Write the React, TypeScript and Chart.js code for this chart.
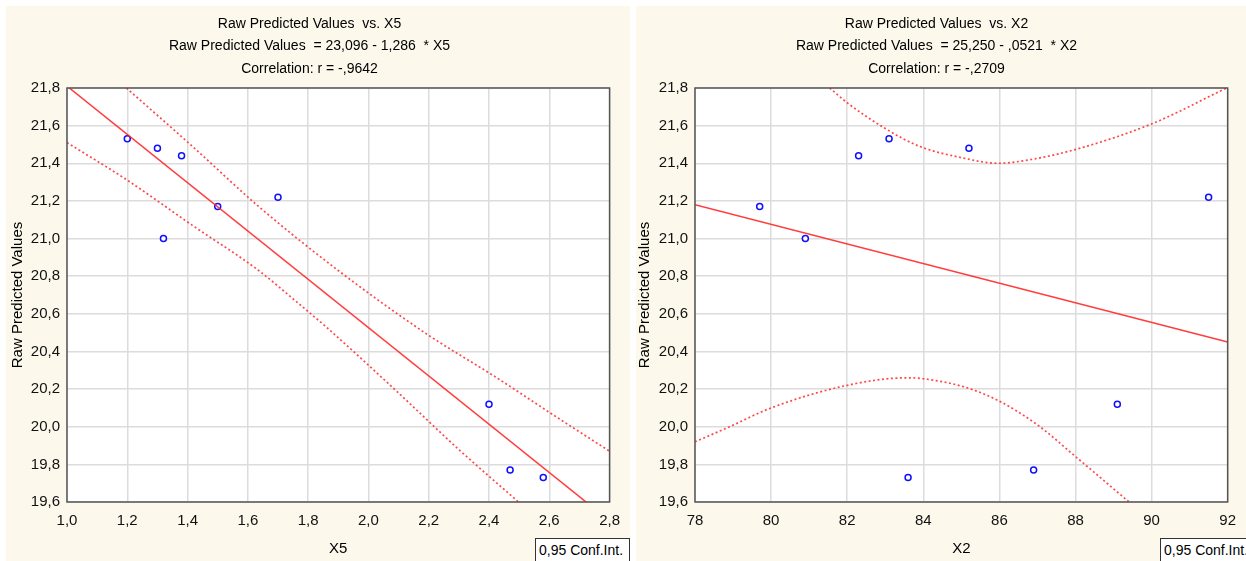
import React, { useEffect, useRef } from 'react';
import { Chart, registerables } from 'chart.js';

Chart.register(...registerables);

// ---- Data ----
const X5_VALUES = [1.2, 1.3, 1.38, 1.5, 1.7, 1.32, 2.4, 2.47, 2.58];
const X2_VALUES = [83.1, 85.2, 82.3, 79.7, 91.5, 80.9, 89.1, 86.9, 83.6];
const RAW_PREDICTED = [21.53, 21.48, 21.44, 21.17, 21.22, 21.0, 20.12, 19.77, 19.73];

const X5_FIT_X = [1.0, 2.8];
const X5_FIT_Y = [21.81, 19.5];
const X5_UPPER_X = [1.197, 1.416, 1.636, 1.9, 2.196, 2.416, 2.635, 2.8];
const X5_UPPER_Y = [21.8, 21.49, 21.17, 20.83, 20.49, 20.27, 20.04, 19.87];
const X5_LOWER_X = [1.0, 1.2, 1.416, 1.636, 1.757, 1.867, 2.086, 2.306, 2.498];
const X5_LOWER_Y = [21.51, 21.31, 21.07, 20.83, 20.67, 20.52, 20.2, 19.87, 19.6];

const X2_FIT_X = [78, 92];
const X2_FIT_Y = [21.18, 20.45];
const X2_UPPER_X = [81.54, 82.01, 83.04, 83.9, 85.0, 85.96, 86.83, 88.03, 90.01, 91.97];
const X2_UPPER_Y = [21.8, 21.72, 21.58, 21.49, 21.43, 21.4, 21.42, 21.475, 21.61, 21.8];
const X2_LOWER_X = [78, 78.91, 80, 82, 83.56, 84.0, 85.1, 85.96, 87, 88.01, 89.41];
const X2_LOWER_Y = [19.92, 20.0, 20.1, 20.22, 20.26, 20.255, 20.21, 20.14, 20.01, 19.84, 19.6];

const Y_TICKS = [19.6, 19.8, 20.0, 20.2, 20.4, 20.6, 20.8, 21.0, 21.2, 21.4, 21.6, 21.8];
const Y_TICK_LABELS = ['19,6', '19,8', '20,0', '20,2', '20,4', '20,6', '20,8', '21,0', '21,2', '21,4', '21,6', '21,8'];
const X5_TICKS = [1.0, 1.2, 1.4, 1.6, 1.8, 2.0, 2.2, 2.4, 2.6, 2.8];
const X5_TICK_LABELS = ['1,0', '1,2', '1,4', '1,6', '1,8', '2,0', '2,2', '2,4', '2,6', '2,8'];
const X2_TICKS = [78, 80, 82, 84, 86, 88, 90, 92];
const X2_TICK_LABELS = ['78', '80', '82', '84', '86', '88', '90', '92'];

const LEFT_TITLE = ['Raw Predicted Values  vs. X5', 'Raw Predicted Values  = 23,096 - 1,286  * X5', 'Correlation: r = -,9642'];
const RIGHT_TITLE = ['Raw Predicted Values  vs. X2', 'Raw Predicted Values  = 25,250 - ,0521  * X2', 'Correlation: r = -,2709'];
const Y_TITLE = 'Raw Predicted Values';
const LEGEND_TEXT = '0,95 Conf.Int.';

const FONT = '"Liberation Sans Narrow", "Arial Narrow", "Liberation Sans", sans-serif';
const CREAM = '#fdf8ec';

const zip = (xs: number[], ys: number[]) => xs.map((x, i) => ({ x, y: ys[i] }));

const framePlugin = {
  id: 'frame',
  beforeDraw(chart: any) {
    const { ctx, chartArea } = chart;
    ctx.save();
    ctx.fillStyle = '#ffffff';
    ctx.fillRect(chartArea.left, chartArea.top, chartArea.right - chartArea.left, chartArea.bottom - chartArea.top);
    ctx.restore();
  },
  afterDraw(chart: any) {
    const { ctx, chartArea } = chart;
    ctx.save();
    ctx.strokeStyle = '#555555';
    ctx.lineWidth = 1.5;
    ctx.strokeRect(chartArea.left, chartArea.top, chartArea.right - chartArea.left, chartArea.bottom - chartArea.top);
    ctx.restore();
  },
};

type PanelProps = {
  left: number;
  width: number;
  plotLeft: number;
  padRight: number;
  yTitlePad: number;
  title: string[];
  xTitle: string;
  xs: number[];
  fitX: number[];
  fitY: number[];
  upX: number[];
  upY: number[];
  loX: number[];
  loY: number[];
  xTicks: number[];
  xTickLabels: string[];
  legendLeft: number;
  legendWidth: number;
};

const HEIGHT = 555;

function Panel(p: PanelProps) {
  const ref = useRef<HTMLCanvasElement | null>(null);
  useEffect(() => {
    if (!ref.current) return;
    const tickFont = { family: FONT, size: 15 };
    const bandStyle = {
      showLine: true,
      borderColor: 'rgba(255,40,40,0.85)',
      borderWidth: 1.7,
      borderDash: [2, 2.5],
      pointRadius: 0,
      cubicInterpolationMode: 'monotone' as const,
      fill: false,
    };
    const chart = new Chart(ref.current, {
      type: 'scatter',
      data: {
        datasets: [
          { label: 'upper', data: zip(p.upX, p.upY), ...bandStyle },
          { label: 'lower', data: zip(p.loX, p.loY), ...bandStyle },
          {
            label: 'fit',
            data: zip(p.fitX, p.fitY),
            showLine: true,
            borderColor: 'rgba(255,40,40,0.9)',
            borderWidth: 1.5,
            pointRadius: 0,
          },
          {
            label: 'points',
            data: zip(p.xs, RAW_PREDICTED),
            pointStyle: 'circle',
            pointRadius: 3,
            borderColor: '#1010ff',
            backgroundColor: '#ffffff',
            borderWidth: 1.5,
          },
        ],
      },
      options: {
        responsive: false,
        animation: false,
        events: [],
        layout: { padding: { left: 0, right: p.padRight, top: 0, bottom: 0 } },
        plugins: {
          legend: { display: false },
          tooltip: { enabled: false },
          title: {
            display: true,
            text: p.title,
            color: '#000000',
            font: { family: FONT, size: 14, weight: 'normal', lineHeight: 22.5 / 14 },
            padding: { top: 6.75, bottom: 7.75 },
          },
        },
        scales: {
          x: {
            type: 'linear',
            min: p.xTicks[0],
            max: p.xTicks[p.xTicks.length - 1],
            afterBuildTicks: (s: any) => {
              s.ticks = p.xTicks.map((v) => ({ value: v }));
            },
            afterFit: (s: any) => {
              s.height = HEIGHT - 496;
            },
            grid: { color: '#dcdcdc', lineWidth: 1.5, drawTicks: false },
            border: { display: false },
            ticks: {
              autoSkip: false,
              maxRotation: 0,
              padding: 10,
              color: '#111111',
              font: tickFont,
              callback: (_v: any, i: number) => p.xTickLabels[i],
            },
            title: {
              display: true,
              text: p.xTitle,
              color: '#000000',
              font: { family: FONT, size: 15 },
              padding: { top: 0, bottom: 3 },
            },
          },
          y: {
            type: 'linear',
            min: Y_TICKS[0],
            max: Y_TICKS[Y_TICKS.length - 1],
            afterBuildTicks: (s: any) => {
              s.ticks = Y_TICKS.map((v) => ({ value: v }));
            },
            afterFit: (s: any) => {
              s.width = p.plotLeft;
            },
            grid: { color: '#dcdcdc', lineWidth: 1.5, drawTicks: false },
            border: { display: false },
            ticks: {
              autoSkip: false,
              padding: 7,
              color: '#111111',
              font: tickFont,
              callback: (_v: any, i: number) => Y_TICK_LABELS[i],
            },
            title: {
              display: true,
              text: Y_TITLE,
              color: '#000000',
              font: { family: FONT, size: 15 },
              padding: { top: p.yTitlePad, bottom: 0 },
            },
          },
        },
      },
      plugins: [framePlugin],
    } as any);
    return () => chart.destroy();
  }, []);

  return (
    <div
      style={{
        position: 'absolute',
        left: p.left,
        top: 6,
        width: p.width,
        height: HEIGHT,
        background: CREAM,
        overflow: 'hidden',
      }}
    >
      <canvas ref={ref} width={p.width} height={HEIGHT} style={{ display: 'block' }} />
      <div
        style={{
          position: 'absolute',
          left: p.legendLeft,
          top: 532,
          width: p.legendWidth,
          height: 30,
          boxSizing: 'border-box',
          border: '1px solid #333333',
          background: '#ffffff',
          fontFamily: FONT,
          fontSize: 14,
          lineHeight: '22px',
          paddingLeft: 3,
          whiteSpace: 'nowrap',
          color: '#000000',
        }}
      >
        {LEGEND_TEXT}
      </div>
    </div>
  );
}

export default function App() {
  return (
    <div
      style={{
        position: 'fixed',
        left: 0,
        top: 0,
        width: 1246,
        height: 561,
        background: '#ffffff',
        overflow: 'hidden',
      }}
    >
      <Panel
        left={6}
        width={624}
        plotLeft={61}
        padRight={17}
        yTitlePad={3}
        title={LEFT_TITLE}
        xTitle="X5"
        xs={X5_VALUES}
        fitX={X5_FIT_X}
        fitY={X5_FIT_Y}
        upX={X5_UPPER_X}
        upY={X5_UPPER_Y}
        loX={X5_LOWER_X}
        loY={X5_LOWER_Y}
        xTicks={X5_TICKS}
        xTickLabels={X5_TICK_LABELS}
        legendLeft={529}
        legendWidth={95}
      />
      <Panel
        left={636}
        width={610}
        plotLeft={59}
        padRight={9}
        yTitlePad={0}
        title={RIGHT_TITLE}
        xTitle="X2"
        xs={X2_VALUES}
        fitX={X2_FIT_X}
        fitY={X2_FIT_Y}
        upX={X2_UPPER_X}
        upY={X2_UPPER_Y}
        loX={X2_LOWER_X}
        loY={X2_LOWER_Y}
        xTicks={X2_TICKS}
        xTickLabels={X2_TICK_LABELS}
        legendLeft={524}
        legendWidth={90}
      />
    </div>
  );
}
